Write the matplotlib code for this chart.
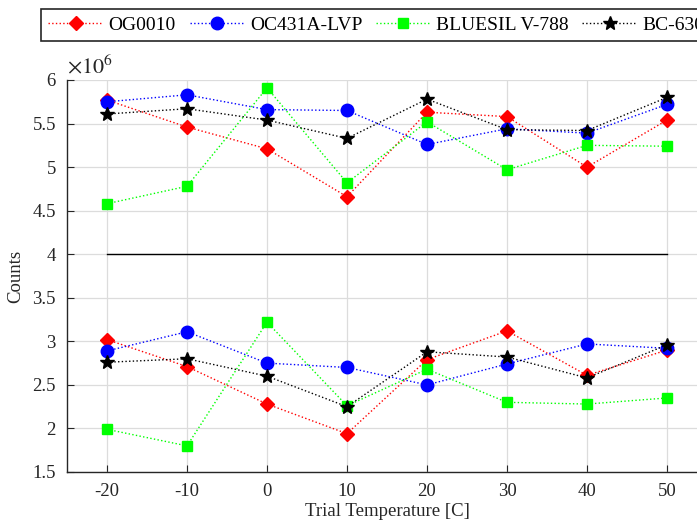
import matplotlib
matplotlib.use("Agg")
import matplotlib.pyplot as plt
from matplotlib.ticker import MultipleLocator

plt.rcParams["font.family"] = ["Liberation Serif", "DejaVu Serif"]
plt.rcParams["mathtext.fontset"] = "stix"
plt.rcParams["axes.unicode_minus"] = False

# --- data (counts in millions) ---
temps = [-20, -10, 0, 10, 20, 30, 40, 50]
names = ["OG0010", "OC431A-LVP", "BLUESIL V-788", "BC-630"]

# upper group
og_hi = [5.77, 5.46, 5.21, 4.66, 5.63, 5.58, 5.00, 5.54]
oc_hi = [5.75, 5.83, 5.66, 5.65, 5.26, 5.44, 5.39, 5.72]
bl_hi = [4.58, 4.78, 5.91, 4.82, 5.52, 4.97, 5.25, 5.24]
bc_hi = [5.61, 5.67, 5.54, 5.33, 5.78, 5.43, 5.42, 5.80]

# lower group
og_lo = [3.02, 2.71, 2.28, 1.94, 2.79, 3.12, 2.61, 2.90]
oc_lo = [2.89, 3.11, 2.75, 2.70, 2.50, 2.74, 2.97, 2.92]
bl_lo = [1.99, 1.80, 3.22, 2.26, 2.68, 2.30, 2.28, 2.35]
bc_lo = [2.76, 2.80, 2.60, 2.25, 2.88, 2.82, 2.58, 2.96]

divider = 4.0

styles = [
    dict(color="red", marker="D", ms=7),
    dict(color="blue", marker="o", ms=9),
    dict(color="#00ff00", marker="s", ms=6.5),
    dict(color="black", marker="*", ms=10.5),
]

W, H = 697, 524
fig = plt.figure(figsize=(W / 100, H / 100), dpi=100)
# axes run past the right edge of the picture, as in the original
ax = fig.add_axes([67 / W, 52 / H, 640 / W, 392 / H])

groups = [(og_hi, og_lo), (oc_hi, oc_lo), (bl_hi, bl_lo), (bc_hi, bc_lo)]
handles = []
for (hi, lo), st, name in zip(groups, styles, names):
    kw = dict(linestyle=":", lw=1.0, color=st["color"], marker=st["marker"],
              markersize=st["ms"], markerfacecolor=st["color"],
              markeredgecolor=st["color"])
    h, = ax.plot(temps, hi, label=name, **kw)
    ax.plot(temps, lo, **kw)
    handles.append(h)

ax.plot([temps[0], temps[-1]], [divider, divider], color="black", lw=1.0)

ax.set_xlim(-25, 55)
ax.set_ylim(1.5, 6)
ax.xaxis.set_major_locator(MultipleLocator(10))
ax.yaxis.set_major_locator(MultipleLocator(0.5))
ax.set_yticklabels([f"{v:g}" for v in ax.get_yticks()])
ax.grid(True, color="#dcdcdc", lw=0.9)
ax.set_axisbelow(True)
for side in ("top", "right"):
    ax.spines[side].set_visible(False)
for side in ("left", "bottom"):
    ax.spines[side].set_color("#262626")
    ax.spines[side].set_linewidth(1.0)
ax.tick_params(direction="in", length=5, labelsize=13.5, colors="#262626",
               pad=8)

ax.set_xlabel("Trial Temperature [C]", fontsize=13.5, color="#262626",
              labelpad=2)
ax.set_ylabel("Counts", fontsize=13.5, color="#262626", labelpad=6)
ax.text(0, 1.005, r"$\times 10^{6}$", transform=ax.transAxes, fontsize=16,
        color="#262626", ha="left", va="bottom")

leg = fig.legend(handles=handles, loc="upper left", ncol=4,
                 bbox_to_anchor=(41 / W, 1 - 9 / H), fontsize=14,
                 handlelength=2.8, handletextpad=0.3, columnspacing=0.7,
                 borderpad=0.38, borderaxespad=0, fancybox=False,
                 framealpha=1)
leg.get_frame().set_edgecolor("#262626")
leg.get_frame().set_linewidth(1.2)

fig.savefig("out.png", dpi=100)
